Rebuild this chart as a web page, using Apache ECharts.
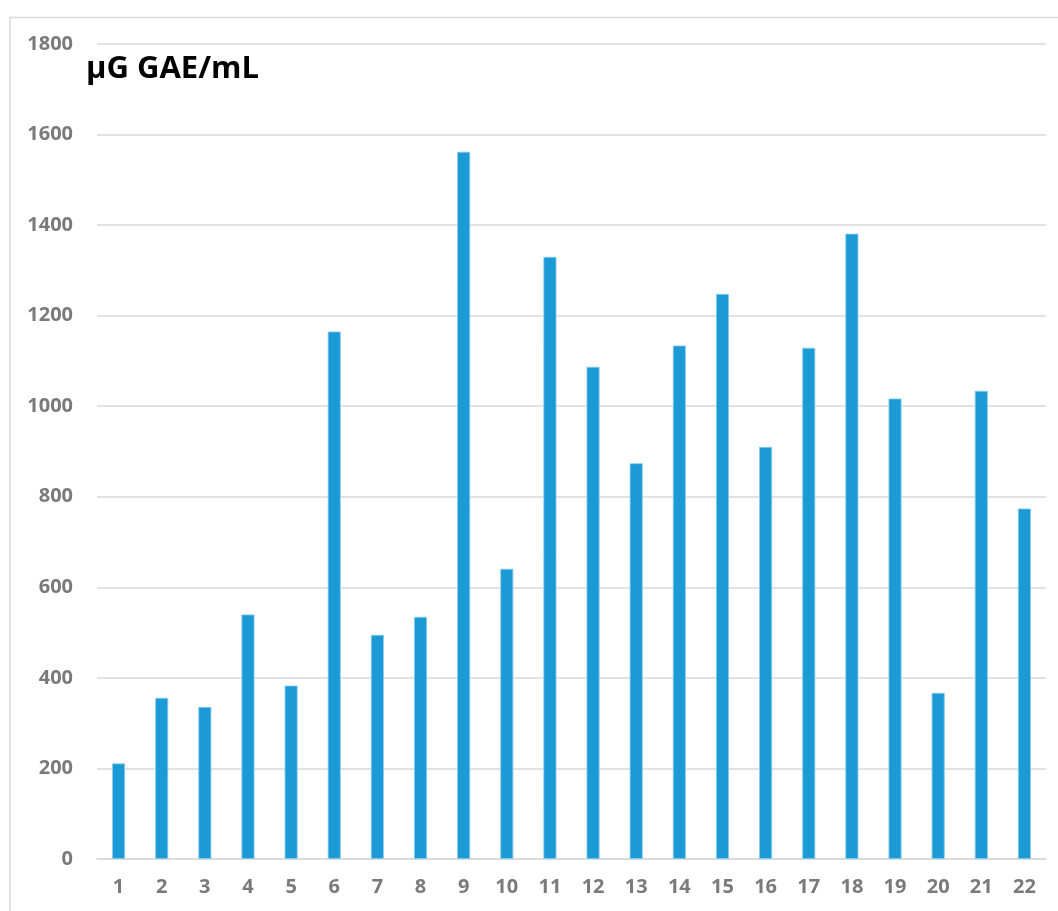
<!DOCTYPE html>
<html>
<head>
<meta charset="utf-8">
<style>
  html, body { margin: 0; padding: 0; background: #fff; }
  #chart { width: 1058px; height: 911px; }
</style>
<script src="https://cdn.jsdelivr.net/npm/echarts@6/dist/echarts.min.js"></script>
</head>
<body>
<div id="chart"></div>
<script>
// --- data ---
const samples = ["1", "2", "3", "4", "5", "6", "7", "8", "9", "10", "11",
  "12", "13", "14", "15", "16", "17", "18", "19", "20", "21", "22"];
const gaeValues = [211, 356, 336, 540, 383, 1165, 495, 535, 1562, 641, 1330,
  1087, 874, 1134, 1248, 910, 1129, 1381, 1017, 367, 1034, 774];
const unitLabel = "µG GAE/mL";

const labelGray = "#7a7a7a";
const gridGray = "#d9d9d9";
const font = "'Open Sans', Lato, sans-serif";

const chart = echarts.init(document.getElementById("chart"));

chart.setOption({
  backgroundColor: "#fff",
  animation: false,
  title: {
    text: unitLabel,
    left: 81,
    top: 49,
    textStyle: { color: "#000", fontSize: 31, fontWeight: "bold", fontFamily: font },
  },
  graphic: [
    {
      type: "rect",
      shape: { x: 10, y: 17.5, width: 1200, height: 1000 },
      style: { fill: "none", stroke: gridGray, lineWidth: 1.5 },
      silent: true,
    },
  ],
  grid: { left: 97, right: 12, top: 44, bottom: 52 },
  xAxis: {
    type: "category",
    data: samples,
    axisTick: { show: false },
    axisLine: { lineStyle: { color: gridGray, width: 1.5 } },
    axisLabel: {
      color: labelGray,
      fontSize: 20,
      fontWeight: "bold",
      fontFamily: font,
      margin: 18,
    },
  },
  yAxis: {
    type: "value",
    min: 0,
    max: 1800,
    interval: 200,
    axisLine: { show: false },
    axisTick: { show: false },
    splitLine: { lineStyle: { color: gridGray, width: 1.5 } },
    axisLabel: {
      color: labelGray,
      fontSize: 20,
      fontWeight: "bold",
      fontFamily: font,
      margin: 24,
      formatter: (v) => String(v),
    },
  },
  series: [
    {
      type: "bar",
      data: gaeValues,
      barWidth: 13,
      itemStyle: { color: "#1b9ad6", borderColor: "#8ccbee", borderWidth: 0.8 },
    },
  ],
});
</script>
</body>
</html>
